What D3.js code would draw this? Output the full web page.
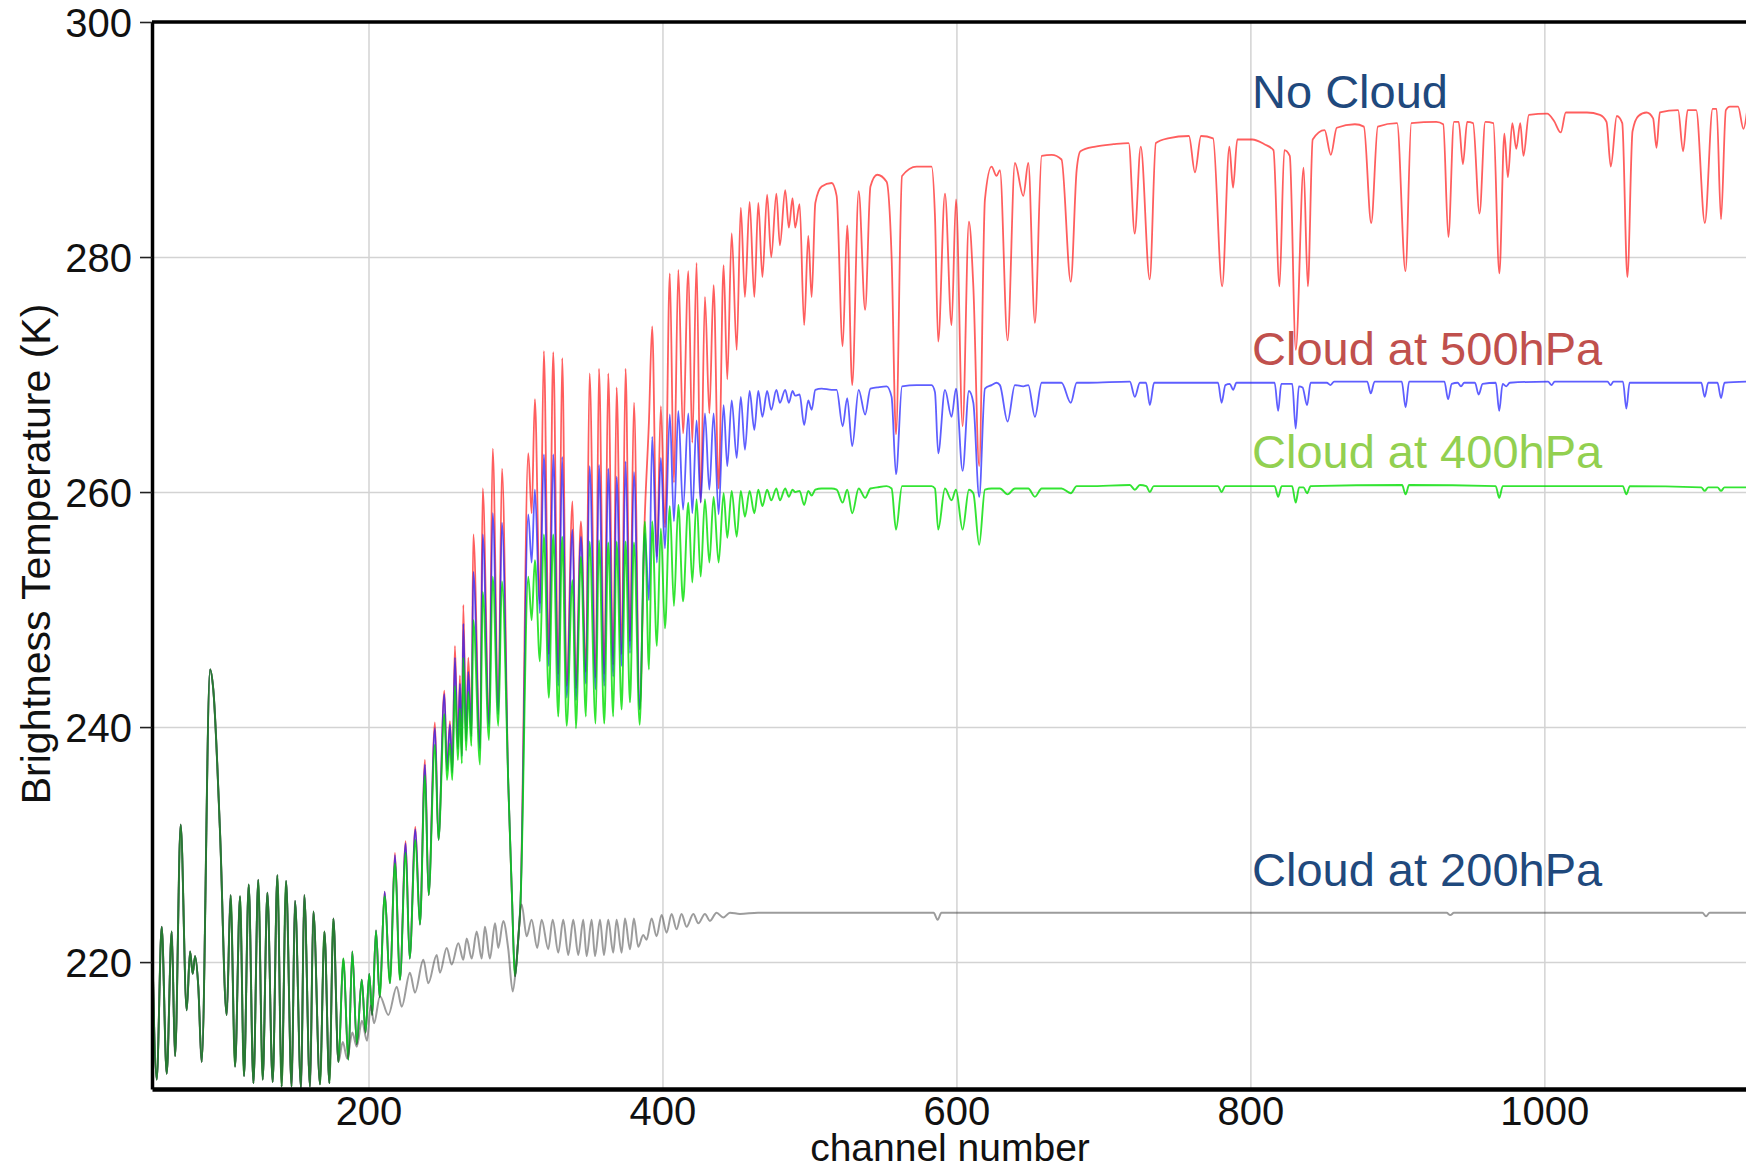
<!DOCTYPE html>
<html>
<head>
<meta charset="utf-8">
<script src="https://cdn.jsdelivr.net/npm/d3@7/dist/d3.min.js"></script>
<style>
  body { margin: 0; background: #fff; }
  text { font-family: "Liberation Sans", Arial, Helvetica, sans-serif; }
</style>
</head>
<body>
<div id="chart"></div>
<script>
//---->DATA (channel, brightness temperature K)<-----//
const xTicks = [200, 400, 600, 800, 1000];
const yTicks = [220, 240, 260, 280, 300];

// channels where all four spectra coincide
const lowBand = [
  [52.5, 224.2], [55.9, 210.0], [59.3, 223.0], [62.7, 210.5], [66.1, 222.6], [68.4, 212.0],
  [72.2, 231.7], [76.3, 215.9], [78.6, 220.9], [80.4, 219.0], [82.0, 220.5], [84.2, 217.9],
  [86.5, 211.5], [92.2, 244.9], [94.4, 243.2], [99.0, 231.0], [103.5, 215.5], [106.2, 225.7],
  [109.2, 211.1], [112.6, 225.6], [115.3, 210.3], [118.5, 226.6], [121.7, 209.7], [125.0, 227.0],
  [128.0, 210.0], [131.2, 225.9], [134.8, 209.8], [138.0, 227.4], [140.9, 209.4], [143.9, 226.9],
  [147.7, 209.4], [150.0, 225.2], [154.1, 209.3], [156.3, 225.7], [160.2, 209.4], [162.5, 224.3],
  [167.0, 209.6], [170.0, 222.6], [173.4, 209.7], [176.1, 223.7], [179.5, 211.5]
];

// rising part, shared channels for no cloud / 500hPa / 400hPa
const riseCh = [
  182.9, 186.3, 189.0, 192.0, 195.4, 198.0, 200.5, 202.5, 205.1, 207.6, 211.0, 214.6, 218.0, 221.4,
  225.3, 228.0, 231.9, 235.0, 238.4, 240.9, 245.2, 247.6, 251.6, 253.4, 255.4, 257.0, 258.8, 260.8,
  262.2, 263.5, 264.5, 266.4, 267.9, 270.0, 271.3, 275.9, 277.7, 282.0, 284.5, 288.3, 290.8, 295.1,
  297.5, 299.7, 301.6, 303.4, 308.7, 311.0, 313.2, 316.6, 319.3, 322.7, 325.7, 329.1, 331.8, 334.8,
  338.8, 341.1, 344.5, 347.9, 350.4, 354.5, 356.8, 360.4, 363.1, 366.5, 368.8, 372.2, 374.9, 377.9,
  380.6, 384.5, 388.0, 390.8, 393.0, 396.2, 398.9, 401.7, 405.0, 407.8, 410.8, 414.0, 417.6, 420.3,
  423.2, 426.0, 428.9, 431.9, 434.8, 438.2, 441.6, 444.1, 447.1, 450.5, 453.3, 456.1, 459.3, 462.5,
  465.2, 468.0, 471.2, 474.0, 477.5, 479.9, 483.5, 486.0, 488.5, 490.3, 493.3, 496.4, 499.2, 501.5,
  504.0, 508.3, 515.1, 518.5, 522.6, 525.7, 529.1, 533.5, 537.9, 541.5, 546.1, 552.5, 555.9, 558.9,
  563.0, 572.9, 583.1, 585.4, 587.6, 592.2, 596.7, 599.7, 604.2, 608.5, 611.5, 615.5, 619.4, 623.9,
  627.3, 629.6, 634.8, 639.8, 645.5, 648.9, 653.4, 658.0, 664.8, 671.5, 677.8, 681.8
];
const riseRed = [
  220.3, 211.7, 220.9, 213.0, 218.5, 214.0, 219.0, 215.5, 222.7, 217.0, 226.0, 218.2, 229.3, 218.5,
  230.3, 220.3, 231.5, 223.2, 237.2, 225.7, 240.4, 230.4, 243.1, 236.5, 240.5, 236.3, 246.9, 238.3,
  244.4, 237.7, 250.4, 239.0, 245.9, 239.4, 256.4, 238.2, 260.3, 240.3, 263.7, 241.4, 262.0, 235.2,
  226.0, 218.8, 221.5, 225.0, 263.3, 258.2, 267.9, 250.5, 272.0, 246.2, 271.9, 244.5, 271.4, 243.5,
  259.2, 243.3, 257.5, 244.7, 270.1, 244.2, 270.5, 244.5, 270.1, 245.3, 268.9, 246.2, 270.5, 247.3,
  267.6, 241.5, 258.0, 266.0, 274.1, 254.5, 267.3, 257.0, 278.6, 260.8, 278.9, 265.0, 278.8, 264.2,
  279.5, 259.1, 276.6, 266.7, 277.6, 260.3, 279.3, 269.6, 282.0, 272.1, 284.2, 276.6, 284.7, 276.6,
  284.6, 278.3, 285.3, 280.0, 285.4, 281.0, 285.7, 282.5, 285.0, 282.5, 284.5, 274.2, 281.8, 276.6,
  284.6, 286.0, 286.3, 285.2, 272.4, 282.7, 269.1, 285.6, 275.5, 286.0, 287.0, 286.4, 280.0, 264.9,
  286.9, 287.7, 287.7, 283.5, 272.8, 285.4, 274.2, 284.9, 265.6, 283.0, 277.5, 262.2, 284.9, 287.7,
  286.9, 287.4, 272.9, 288.0, 285.2, 288.0, 274.4, 288.6, 288.7, 288.3, 277.9, 287.4
];
const riseBlue = [
  220.3, 211.7, 220.9, 213.0, 218.5, 214.0, 219.0, 215.5, 222.7, 217.0, 226.0, 218.2, 229.1, 218.5,
  230.1, 220.3, 231.3, 223.2, 236.8, 225.7, 239.9, 230.4, 242.8, 236.3, 240.2, 236.1, 245.9, 238.1,
  243.7, 237.5, 248.8, 238.8, 244.7, 239.2, 253.2, 238.0, 256.4, 240.0, 258.2, 241.1, 257.4, 235.2,
  226.0, 218.8, 221.5, 225.0, 258.1, 254.0, 260.2, 249.7, 263.2, 245.2, 263.2, 243.5, 263.0, 242.5,
  256.8, 242.3, 256.2, 243.7, 262.2, 243.2, 262.3, 243.5, 262.0, 244.3, 261.3, 245.2, 262.6, 246.3,
  261.7, 241.5, 256.5, 250.8, 264.7, 254.0, 262.9, 255.2, 266.6, 257.5, 266.9, 258.5, 266.7, 258.2,
  266.1, 259.1, 266.7, 260.2, 266.7, 258.1, 267.4, 262.2, 267.8, 262.9, 268.1, 263.6, 268.6, 265.3,
  268.6, 266.4, 268.6, 267.0, 268.7, 267.6, 268.7, 267.6, 268.6, 268.2, 268.3, 265.7, 267.8, 267.0,
  268.7, 268.8, 268.7, 268.7, 265.6, 268.0, 263.9, 268.7, 266.6, 268.8, 268.9, 269.0, 268.1, 261.5,
  269.0, 269.1, 269.1, 268.5, 263.3, 268.7, 266.4, 268.8, 261.8, 268.6, 267.6, 259.6, 268.8, 269.1,
  269.3, 269.1, 266.0, 269.1, 269.0, 269.1, 266.4, 269.3, 269.3, 269.3, 267.6, 269.3
];
const riseGreen = [
  220.3, 211.7, 220.9, 213.0, 218.5, 214.0, 219.0, 215.5, 222.7, 217.0, 225.6, 218.2, 228.4, 218.5,
  229.3, 220.3, 230.4, 223.2, 235.9, 225.7, 238.5, 230.4, 241.1, 235.5, 238.6, 235.5, 243.5, 237.2,
  241.6, 236.9, 245.9, 238.0, 243.0, 238.4, 249.1, 236.8, 251.5, 238.9, 252.8, 240.1, 252.4, 235.2,
  226.0, 218.8, 221.5, 225.0, 252.8, 249.1, 254.2, 245.6, 256.4, 242.5, 256.4, 240.9, 256.2, 240.1,
  252.5, 239.9, 254.5, 240.9, 255.8, 240.3, 255.9, 240.3, 255.7, 240.9, 255.8, 241.5, 255.8, 242.1,
  255.7, 240.2, 257.5, 244.9, 257.5, 246.9, 256.9, 248.4, 258.8, 250.3, 258.9, 250.7, 259.1, 252.3,
  259.4, 252.8, 259.4, 254.0, 259.6, 254.0, 259.9, 256.1, 260.1, 256.2, 260.1, 257.9, 260.1, 258.2,
  260.2, 258.8, 260.2, 259.3, 260.3, 259.3, 260.3, 259.6, 260.2, 260.0, 260.1, 258.9, 260.1, 259.7,
  260.2, 260.3, 260.3, 260.2, 259.1, 260.2, 258.2, 260.3, 259.5, 260.3, 260.4, 260.5, 260.3, 256.8,
  260.5, 260.5, 260.5, 260.3, 256.8, 260.3, 259.3, 260.2, 256.8, 260.2, 259.9, 255.5, 260.2, 260.3,
  260.3, 260.3, 259.8, 260.3, 260.3, 260.3, 259.6, 260.3, 260.3, 260.3, 259.9, 260.5
];

const redTail = [
  [684.4, 289.0], [694.6, 289.4], [706.9, 289.6], [717.2, 289.7], [721.3, 282.0], [725.4, 289.4],
  [731.5, 278.1], [735.7, 289.7], [743.9, 290.1], [758.2, 290.3], [762.3, 287.2], [766.4, 290.3],
  [774.6, 290.1], [780.8, 277.5], [785.7, 289.4], [788.2, 285.9], [791.1, 290.0], [801.3, 290.0],
  [809.5, 289.6], [815.7, 289.1], [819.8, 277.5], [823.1, 289.1], [826.8, 288.6], [830.9, 272.1],
  [836.2, 287.6], [839.1, 277.5], [842.4, 290.0], [850.5, 290.8], [854.7, 288.7], [858.8, 291.0],
  [871.1, 291.3], [877.2, 291.1], [882.2, 282.9], [886.7, 291.1], [899.8, 291.4], [905.5, 278.8],
  [909.5, 291.4], [926.5, 291.5], [931.2, 291.3], [934.7, 281.7], [938.5, 291.5], [941.7, 291.5],
  [944.6, 287.9], [947.5, 291.5], [951.5, 291.4], [955.9, 283.7], [959.8, 291.5], [965.3, 291.4],
  [969.4, 278.6], [972.8, 290.5], [975.2, 286.8], [978.2, 291.4], [980.9, 289.2], [983.6, 291.4],
  [985.8, 288.6], [989.5, 292.1], [1001.9, 292.2], [1006.5, 291.6], [1011.2, 290.6], [1014.6, 292.3],
  [1029.0, 292.3], [1037.8, 292.1], [1042.3, 291.5], [1045.2, 287.7], [1049.3, 292.0], [1053.0, 291.4],
  [1056.5, 278.3], [1060.0, 290.7], [1064.0, 292.0], [1069.5, 292.3], [1074.0, 291.8], [1076.3, 289.3],
  [1078.6, 292.3], [1091.0, 292.5], [1094.4, 289.0], [1097.5, 292.5], [1103.3, 292.5], [1109.2, 282.9],
  [1114.5, 292.6], [1117.2, 292.6], [1120.2, 283.2], [1123.5, 292.5], [1126.2, 292.8], [1131.8, 292.8],
  [1135.5, 290.9], [1138.0, 292.5]
];

const blueTail = [
  [690.0, 269.3], [718.0, 269.4], [721.4, 268.1], [724.8, 269.3], [729.0, 269.3], [731.6, 267.4],
  [734.5, 269.3], [778.0, 269.3], [780.4, 267.6], [783.0, 269.1], [786.0, 269.2], [788.3, 268.7],
  [790.5, 269.3], [816.5, 269.3], [818.9, 266.9], [821.0, 269.2], [828.5, 269.2], [830.8, 265.4],
  [833.0, 269.0], [835.5, 268.9], [838.6, 267.4], [841.0, 269.3], [852.0, 269.3], [854.5, 269.1],
  [857.0, 269.4], [879.5, 269.4], [881.9, 268.4], [884.5, 269.4], [903.0, 269.4], [905.6, 267.2],
  [908.0, 269.4], [932.0, 269.4], [934.5, 267.9], [937.0, 269.2], [941.0, 269.3], [943.3, 269.0],
  [945.5, 269.3], [952.8, 269.3], [955.3, 268.3], [958.0, 269.2], [967.0, 269.3], [969.3, 266.9],
  [971.6, 269.2], [974.1, 269.0], [976.5, 269.3], [1002.5, 269.4], [1004.9, 269.1], [1007.0, 269.4],
  [1043.0, 269.4], [1045.1, 269.1], [1047.0, 269.4], [1053.5, 269.4], [1055.8, 267.1], [1058.0, 269.3],
  [1106.8, 269.3], [1109.1, 268.1], [1111.5, 269.3], [1117.8, 269.3], [1120.2, 268.0], [1122.6, 269.3],
  [1138.0, 269.4]
];

const greenTail = [
  [690.0, 260.5], [718.0, 260.6], [721.4, 260.2], [724.8, 260.6], [729.2, 260.5], [731.6, 260.0],
  [734.2, 260.5], [778.0, 260.5], [780.4, 260.0], [782.8, 260.5], [816.5, 260.5], [818.9, 259.6],
  [821.3, 260.5], [828.4, 260.5], [830.8, 259.1], [833.2, 260.4], [836.2, 260.4], [838.6, 259.9],
  [841.0, 260.5], [903.2, 260.6], [905.6, 259.8], [908.0, 260.6], [966.9, 260.5], [969.3, 259.5],
  [971.7, 260.5], [1053.4, 260.5], [1055.8, 259.8], [1058.2, 260.5], [1106.7, 260.4], [1109.1, 260.1],
  [1111.5, 260.4], [1117.8, 260.4], [1120.2, 260.1], [1122.6, 260.4], [1138.0, 260.4]
];

const grayRise = [
  [182.5, 213.2], [185.5, 211.8], [189.0, 214.0], [192.0, 212.8], [195.5, 215.0], [199.0, 213.3],
  [201.5, 216.3], [203.8, 214.8], [207.8, 217.1], [213.5, 215.5], [219.2, 217.9], [222.6, 216.2],
  [228.2, 219.1], [231.6, 217.4], [237.3, 220.2], [240.7, 218.2], [246.4, 220.6], [248.6, 219.1],
  [253.2, 221.2], [256.6, 219.8], [261.1, 221.6], [264.5, 220.2], [266.8, 222.0], [270.2, 220.3],
  [273.6, 222.6], [277.0, 220.3], [279.2, 223.0], [282.6, 220.3], [286.1, 223.3], [288.3, 221.2],
  [291.7, 223.5], [295.1, 221.1], [298.1, 217.5], [300.8, 220.2], [304.2, 224.9], [307.6, 222.2],
  [311.0, 223.6], [314.8, 221.2], [317.8, 223.6], [322.3, 221.1], [325.3, 223.6], [329.1, 220.8],
  [332.5, 223.6], [335.9, 220.6], [339.3, 223.6], [342.7, 220.6], [346.1, 223.6], [348.4, 220.5],
  [351.8, 223.6], [354.1, 220.5], [357.5, 223.6], [360.2, 220.6], [363.1, 223.6], [366.5, 220.8],
  [368.8, 223.6], [372.2, 220.8], [374.5, 223.7], [377.9, 221.1], [380.6, 223.7], [383.5, 221.3],
  [386.9, 222.3], [389.2, 221.9], [392.6, 223.7], [396.0, 222.2], [399.4, 224.0], [402.8, 222.5],
  [406.2, 224.1], [409.6, 222.8], [413.0, 224.1], [416.4, 223.0], [421.0, 224.1], [424.4, 223.3],
  [428.9, 224.1], [432.3, 223.5], [436.8, 224.2], [441.4, 223.8], [445.9, 224.2], [452.7, 224.1]
];

const grayTail = [
  [465.0, 224.2], [584.5, 224.2], [587.2, 223.6], [589.8, 224.2], [933.5, 224.2], [936.0, 224.0],
  [938.5, 224.2], [1107.5, 224.2], [1110.0, 223.9], [1112.5, 224.2], [1138.0, 224.2]
];

const seriesNames = ['No Cloud', 'Cloud at 500hPa', 'Cloud at 400hPa', 'Cloud at 200hPa'];

//---->BUILD SERIES<-----//
const zip = (chs, vals) => chs.map((c, i) => [c, vals[i]]);

const series = [
  { key: 'red', values: lowBand.concat(zip(riseCh, riseRed), redTail) },
  { key: 'blue', values: lowBand.concat(zip(riseCh, riseBlue), blueTail) },
  { key: 'green', values: lowBand.concat(zip(riseCh, riseGreen), greenTail) },
  { key: 'gray', values: lowBand.concat(grayRise, grayTail) }
];

const lineStyle = {
  red: { stroke: '#ff1a1a', opacity: 0.7, width: 1.8 },
  blue: { stroke: '#1a1aff', opacity: 0.7, width: 1.8 },
  green: { stroke: '#00dd00', opacity: 0.8, width: 1.9 },
  gray: { stroke: '#3a3a3a', opacity: 0.5, width: 2 }
};

//---->CHART<-----//
const outerW = 1746,
    outerH = 1170;

const margin = { left: 152, right: 0, top: 22, bottom: 81 };
const w = outerW - margin.left - margin.right,
    h = outerH - margin.top - margin.bottom;

const x = d3.scaleLinear().domain([52.7, 1137.2]).range([0, w]);
const y = d3.scaleLinear().domain([209.2, 300]).range([h, 0]);

const svg = d3.select('#chart').append('svg')
    .attr('width', outerW)
    .attr('height', outerH)
    .style('display', 'block')
    .style('background', '#fff');

svg.append('defs').append('clipPath')
    .attr('id', 'plot-clip')
    .append('rect')
    .attr('width', w)
    .attr('height', h);

const g = svg.append('g')
    .attr('transform', 'translate(' + margin.left + ',' + margin.top + ')');

// grid
g.append('g')
    .attr('class', 'grid x')
    .attr('transform', 'translate(0,' + h + ')')
    .call(d3.axisBottom(x).tickValues(xTicks).tickSize(-h).tickFormat(''))
    .call(s => s.select('.domain').remove());

g.append('g')
    .attr('class', 'grid y')
    .call(d3.axisLeft(y).tickValues(yTicks.filter(t => t < 300)).tickSize(-w).tickFormat(''))
    .call(s => s.select('.domain').remove());

g.selectAll('.grid line')
    .attr('stroke', '#d3d3d3')
    .attr('stroke-width', 1.5);

// spectra
const line = d3.line()
    .x(d => x(d[0]))
    .y(d => y(d[1]))
    .curve(d3.curveMonotoneX);

g.append('g')
    .attr('clip-path', 'url(#plot-clip)')
    .selectAll('.spectrum')
    .data(series)
    .enter().append('path')
    .attr('class', 'spectrum')
    .attr('d', d => line(d.values))
    .attr('fill', 'none')
    .attr('stroke', d => lineStyle[d.key].stroke)
    .attr('stroke-opacity', d => lineStyle[d.key].opacity)
    .attr('stroke-width', d => lineStyle[d.key].width)
    .attr('stroke-linejoin', 'round');

// axes
const yAxis = g.append('g')
    .attr('class', 'y axis')
    .call(d3.axisLeft(y)
        .tickValues(yTicks)
        .tickSize(12)
        .tickPadding(8)
        .tickSizeOuter(0)
        .tickFormat(d3.format('d'))
    );

yAxis.select('.domain').attr('stroke', '#000').attr('stroke-width', 3.5);
yAxis.selectAll('.tick line').attr('stroke', '#222').attr('stroke-width', 1.6);
yAxis.selectAll('.tick text')
    .attr('font-size', 40)
    .attr('fill', '#111')
    .attr('dy', '0.36em')
    .style('font-family', '"Liberation Sans", Arial, sans-serif');

const xAxis = g.append('g')
    .attr('class', 'x axis')
    .attr('transform', 'translate(0,' + h + ')')
    .call(d3.axisBottom(x)
        .tickValues(xTicks)
        .tickSize(0)
        .tickPadding(8)
        .tickSizeOuter(0)
        .tickFormat(d3.format('d'))
    );

xAxis.select('.domain').attr('stroke', '#000').attr('stroke-width', 4.5);
xAxis.selectAll('.tick text')
    .attr('font-size', 40)
    .attr('fill', '#111')
    .style('font-family', '"Liberation Sans", Arial, sans-serif');

g.append('line')
    .attr('x1', 0)
    .attr('x2', w)
    .attr('y1', 0)
    .attr('y2', 0)
    .attr('stroke', '#000')
    .attr('stroke-width', 3.5);

// axis titles
svg.append('text')
    .attr('x', 950)
    .attr('y', 1161)
    .attr('text-anchor', 'middle')
    .attr('font-size', 39)
    .attr('fill', '#111')
    .text('channel number');

svg.append('text')
    .attr('transform', 'translate(50,554) rotate(-90)')
    .attr('text-anchor', 'middle')
    .attr('font-size', 41)
    .attr('fill', '#111')
    .text('Brightness Temperature (K)');

// series labels
const labelAnchors = [
  { x: 1252, y: 108, color: '#1f497d' },
  { x: 1252, y: 365, color: '#c0504d' },
  { x: 1252, y: 468, color: '#92d050' },
  { x: 1252, y: 886, color: '#1f497d' }
];

svg.selectAll('.series-label')
    .data(seriesNames)
    .enter().append('text')
    .attr('class', 'series-label')
    .attr('x', (d, i) => labelAnchors[i].x)
    .attr('y', (d, i) => labelAnchors[i].y)
    .attr('font-size', 47)
    .attr('fill', (d, i) => labelAnchors[i].color)
    .text(d => d);
</script>
</body>
</html>
